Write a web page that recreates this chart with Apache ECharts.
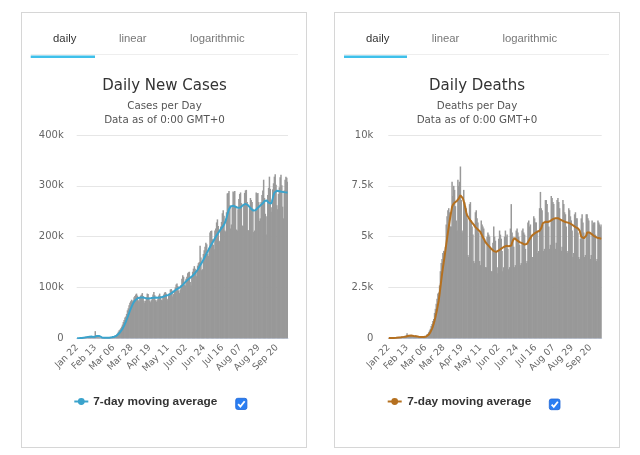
<!DOCTYPE html>
<html>
<head>
<meta charset="utf-8">
<title>Daily New Cases / Daily Deaths</title>
<script src="https://cdn.jsdelivr.net/npm/echarts@6/dist/echarts.min.js"></script>
<style>
  html, body { margin: 0; padding: 0; background: #fff; }
  .panel { position: absolute; top: 12px; width: 284px; height: 434px; border: 1px solid #d6d6d6; background: #fff; }
  #chart { position: absolute; left: 0; top: 0; width: 640px; height: 455px; }
</style>
</head>
<body>
<div class="panel" style="left:21px"></div>
<div class="panel" style="left:334px"></div>
<div id="chart"></div>
<script>
// first day of the series, Jan 22 2020
var startDay = { year: 2020, month: 0, day: 22 };
var monthNames = ['Jan', 'Feb', 'Mar', 'Apr', 'May', 'Jun', 'Jul', 'Aug', 'Sep', 'Oct', 'Nov', 'Dec'];

// new cases per day, Jan 22 .. Oct 3
var casesDaily = [
    100, 260, 450, 690, 790, 1770, 1460, 1740, 1980, 2100,
    2600, 2830, 3240, 3900, 3700, 3160, 3420, 2660, 3000, 2540, 2060, 2020,
    14100, 5100, 2660, 2100, 2060, 1900, 560, 640, 1030, 990, 620, 580, 860, 900, 1130, 1360, 1700,
    1900, 2200, 2600, 2800, 3500, 4000, 4500, 4800, 5500, 7500, 9500, 13000, 16000, 17500, 20000, 23000, 27000, 32000, 36000, 41000, 43000, 48000, 55000, 59000, 65000, 70000, 73000, 76000, 73000, 75000, 81000,
    83000, 86000, 88000, 84000, 75000, 72000, 80000, 84000, 86000, 89000, 83000, 74000, 70000, 74000, 81000, 88000, 87000, 81000, 74000, 71000, 75000, 79000, 86000, 91000, 85000, 75000, 72000, 75000, 78000, 84000,
    88000, 83000, 76000, 75000, 80000, 86000, 90000, 91000, 88000, 78000, 75000, 84000, 88000, 96000, 97000, 94000, 82000, 87000, 93000, 100000, 106000, 108000, 103000, 94000, 89000, 96000, 105000, 117000, 124000, 121000, 106000,
    104000, 117000, 121000, 128000, 130000, 131000, 111000, 104000, 122000, 131000, 137000, 142000, 137000, 133000, 122000, 143000, 148000, 150000, 182000, 159000, 134000, 136000, 166000, 173000, 180000, 188000, 185000, 166000, 162000, 178000,
    208000, 211000, 212000, 195000, 184000, 175000, 212000, 216000, 228000, 234000, 221000, 190000, 192000, 220000, 229000, 246000, 252000, 241000, 212000, 210000, 248000, 285000, 286000, 290000, 262000, 216000, 224000, 258000, 289000, 287000, 290000,
    258000, 214000, 212000, 254000, 274000, 284000, 287000, 266000, 222000, 221000, 262000, 286000, 291000, 292000, 268000, 213000, 212000, 256000, 276000, 272000, 268000, 255000, 209000, 212000, 252000, 287000, 284000, 286000, 268000, 231000, 236000,
    268000, 282000, 291000, 312000, 276000, 245000, 204000, 240000, 282000, 296000, 318000, 294000, 249000, 258000, 293000, 305000, 318000, 323000, 302000, 262000, 254000, 284000, 297000, 317000, 322000, 301000, 259000, 236000, 291000, 312000,
    318000, 316000, 308000
];

// 7-day moving average of new cases
var casesAvg = [
    100, 200, 300, 400, 500, 700, 800, 1000, 1300, 1500,
    1800, 2100, 2300, 2600, 2900, 3100, 3300, 3300, 3300, 3200, 2900, 2700,
    4400, 4700, 4700, 4500, 4500, 4400, 4200, 2200, 1600, 1300, 1100, 900, 800, 800, 900, 900, 1000,
    1200, 1400, 1700, 2000, 2300, 2700, 3100, 3600, 4300, 5300, 6500, 8000, 9800, 11800, 13900, 16200, 18800, 21700, 25000, 28600, 32500, 36600, 40900, 45300, 49800, 54200, 58500, 62400, 65900, 69000, 71700,
    74000, 75900, 77400, 78600, 79500, 80000, 80200, 80300, 80400, 80600, 80400, 80000, 79600, 79000, 78700, 78500, 78400, 78400, 78500, 78700, 79000, 79300, 79600, 79900, 80200, 80300, 80300, 80200, 80000, 79800,
    79900, 80100, 80500, 81000, 81600, 82300, 83000, 83600, 84100, 84500, 84900, 85400, 86200, 87200, 88300, 89500, 90800, 92100, 93400, 94600, 95700, 96700, 97600, 98500, 99500, 100600, 101900, 103400, 105100, 106900, 108700,
    110500, 112200, 113800, 115200, 116600, 117800, 119000, 120100, 121200, 123000, 124500, 126500, 128500, 130500, 132500, 134800, 137300, 140500, 143500, 146200, 148800, 151500, 154500, 157800, 161000, 164300, 167500, 170500, 173500, 176500,
    179500, 182500, 185500, 188000, 191000, 194000, 197000, 199800, 202500, 205000, 207500, 210000, 212200, 214500, 216700, 218800, 221000, 223500, 227000, 231500, 237000, 243000, 249000, 254000, 257500, 259500, 260500, 261000, 260800, 260200, 259500,
    258800, 258000, 257300, 256600, 256000, 256500, 257500, 259000, 260500, 262000, 263200, 264000, 264300, 264000, 263200, 262000, 260300, 258300, 256200, 254300, 252700, 251500, 251000, 251200, 252000, 253300, 255000, 256800, 258500, 260000, 261200,
    262000, 263500, 265500, 267800, 270000, 271500, 272000, 271000, 269000, 267000, 265200, 264000, 265000, 269000, 275000, 281500, 286500, 289000, 290000, 290300, 290200, 289800, 289300, 288900, 288600, 288300, 288000, 287800, 287600, 287400,
    287300, 287100, 287000
];

// deaths per day
var deathsDaily = [
    17, 8, 16, 15, 24, 26, 26, 38, 43, 46,
    45, 57, 64, 66, 73, 73, 86, 89, 97, 108, 97, 146,
    254, 121, 143, 142, 106, 98, 139, 115, 125, 97, 150, 71, 64, 38, 55, 56, 64,
    58, 70, 70, 83, 98, 110, 120, 200, 220, 300, 390, 470, 600, 700, 850, 950, 1250, 1450, 1700, 1950, 2200, 2250, 2600, 3300, 3700, 3900, 4200, 4300, 4000, 4500, 5600,
    6000, 6300, 6400, 6200, 5500, 5500, 7700, 7000, 7500, 7300, 6500, 5800, 5300, 7800, 7500, 7700, 8450, 6800, 5200, 5300, 7300, 6700, 6500, 6400, 5900, 4100, 4000, 6600, 6700, 5800,
    5500, 5100, 3800, 3700, 6200, 6300, 5900, 5700, 5200, 3800, 3600, 5800, 5600, 5500, 5400, 4900, 3500, 3500, 5000, 5200, 5100, 5000, 4500, 3300, 3300, 4700, 5500, 5000, 4800, 4300, 3200,
    3500, 4900, 5300, 5100, 4900, 4300, 3300, 3500, 5000, 5300, 5000, 5100, 4400, 3400, 3500, 5400, 6600, 5200, 5000, 4500, 3500, 3600, 5300, 5400, 5200, 5000, 4600, 3600, 3700, 5300,
    5400, 5200, 5100, 4400, 3700, 3800, 5700, 5800, 5500, 5600, 5000, 4000, 4000, 6000, 5900, 5700, 5700, 5300, 4200, 4300, 6400, 7200, 6400, 6300, 5600, 4300, 4400, 6800, 6800, 6600, 6200,
    5500, 4400, 4600, 7000, 6900, 6700, 6600, 5900, 4400, 4700, 6800, 6900, 6700, 6400, 5800, 4300, 4500, 6800, 6600, 6200, 6100, 5500, 4200, 4300, 6400, 6300, 6000, 5800, 5300, 4000, 4200,
    6100, 6200, 5900, 5900, 5200, 4000, 3900, 4900, 5900, 6100, 5700, 5200, 4000, 4100, 6100, 6100, 5900, 5800, 5200, 3900, 4100, 5800, 5600, 5700, 5700, 5100, 3800, 3900, 5800, 5700,
    5600, 5500, 5600
];

// 7-day moving average of deaths
var deathsAvg = [
    17, 13, 14, 14, 16, 18, 20, 21, 24, 27,
    32, 37, 42, 46, 50, 55, 61, 65, 70, 76, 80, 88,
    113, 117, 124, 130, 132, 133, 139, 119, 116, 112, 113, 105, 95, 86, 80, 72, 64,
    62, 62, 63, 66, 72, 80, 90, 110, 140, 180, 235, 300, 380, 480, 590, 720, 870, 1035, 1220, 1420, 1630, 1860, 2170, 2500, 2840, 3170, 3460, 3740, 4020, 4320, 4620,
    4920, 5200, 5470, 5740, 5990, 6230, 6460, 6560, 6620, 6670, 6700, 6730, 6770, 6820, 6870, 6950, 7035, 7020, 6960, 6880, 6790, 6600, 6400, 6200, 6050, 5980, 5920, 5860, 5800, 5740,
    5690, 5640, 5590, 5530, 5470, 5430, 5390, 5350, 5310, 5270, 5230, 5150, 5060, 4980, 4900, 4810, 4730, 4680, 4630, 4590, 4540, 4500, 4450, 4400, 4360, 4320, 4290, 4260, 4240, 4250, 4270,
    4300, 4320, 4350, 4380, 4410, 4440, 4470, 4490, 4510, 4530, 4550, 4560, 4570, 4530, 4480, 4450, 4560, 4700, 4820, 4900, 4930, 4950, 4880, 4815, 4770, 4730, 4730, 4730, 4700, 4680,
    4650, 4620, 4610, 4610, 4620, 4650, 4720, 4800, 4870, 4940, 5000, 5060, 5100, 5130, 5160, 5190, 5210, 5230, 5250, 5270, 5290, 5310, 5420, 5550, 5660, 5720, 5730, 5730, 5720, 5720, 5720,
    5720, 5750, 5780, 5810, 5840, 5860, 5880, 5900, 5910, 5920, 5920, 5910, 5890, 5870, 5840, 5820, 5800, 5780, 5760, 5740, 5720, 5710, 5700, 5690, 5680, 5660, 5640, 5610, 5590, 5560, 5530,
    5500, 5470, 5450, 5430, 5410, 5390, 5300, 5150, 5000, 4930, 4920, 4920, 4930, 4930, 5050, 5200, 5280, 5250, 5200, 5160, 5130, 5110, 5080, 5050, 5010, 4980, 4960, 4950, 4940, 4930,
    4920, 4910, 4900
];

// y axis ticks and their labels
var casesTicks = [0, 100000, 200000, 300000, 400000];
var casesTickLabels = ['0', '100k', '200k', '300k', '400k'];
var deathsTicks = [0, 2500, 5000, 7500, 10000];
var deathsTickLabels = ['0', '2.5k', '5k', '7.5k', '10k'];

var tabNames = ['daily', 'linear', 'logarithmic'];
var casesColor = '#3aa3cc';
var deathsColor = '#b5701f';
var barColor = '#999999';

function pad2(n) { return n < 10 ? '0' + n : '' + n; }

function makeDates(count) {
    var out = [];
    for (var i = 0; i < count; i++) {
        var d = new Date(Date.UTC(startDay.year, startDay.month, startDay.day + i));
        out.push(monthNames[d.getUTCMonth()] + ' ' + pad2(d.getUTCDate()));
    }
    return out;
}

var dates = makeDates(casesDaily.length);

var baseFont = 'DejaVu Sans, sans-serif';
var tabFont = 'Liberation Sans, Arial, sans-serif';

function xAxisFor(idx) {
    return {
        type: 'category',
        gridIndex: idx,
        data: dates,
        boundaryGap: true,
        axisLine: { lineStyle: { color: '#ccd6eb', width: 1 } },
        axisTick: { show: false },
        axisLabel: {
            interval: 21,
            rotate: 45,
            margin: 8,
            color: '#666',
            fontSize: 9.2,
            fontFamily: baseFont
        }
    };
}

function yAxisFor(idx, ticks, labels, margin) {
    return {
        type: 'value',
        gridIndex: idx,
        min: ticks[0],
        max: ticks[ticks.length - 1],
        interval: ticks[1] - ticks[0],
        axisLine: { show: false },
        axisTick: { show: false },
        splitLine: { lineStyle: { color: '#e6e6e6', width: 1 } },
        axisLabel: {
            margin: margin,
            color: '#666',
            fontSize: 10,
            fontFamily: baseFont,
            formatter: function (v) { return labels[ticks.indexOf(v)]; }
        }
    };
}

// tabs, titles, legend and checkbox of one panel
function panelGraphics(cx, tabX, underline, title, subtitle, legend, box, color) {
    var els = [];
    tabNames.forEach(function (name, i) {
        els.push({
            type: 'text', x: tabX[i], y: 38.5,
            style: { text: name, fill: i === 0 ? '#333' : '#777', fontSize: 11.3, fontFamily: tabFont, align: 'center', verticalAlign: 'middle' }
        });
    });
    els.push({ type: 'rect', shape: { x: underline[0], y: 54, width: underline[2] - underline[0], height: 1 }, style: { fill: '#eeeeee' } });
    els.push({ type: 'rect', shape: { x: underline[0], y: 55.5, width: underline[1] - underline[0], height: 2.4 }, style: { fill: '#3fc0ea' } });
    els.push({
        type: 'text', x: cx, y: 86,
        style: { text: title, fill: '#333', fontSize: 15, fontFamily: baseFont, align: 'center', verticalAlign: 'middle' }
    });
    els.push({
        type: 'text', x: cx, y: 106.7,
        style: { text: subtitle, fill: '#555', fontSize: 10.3, fontFamily: baseFont, align: 'center', verticalAlign: 'middle' }
    });
    els.push({
        type: 'text', x: cx, y: 120.7,
        style: { text: 'Data as of 0:00 GMT+0', fill: '#555', fontSize: 10.3, fontFamily: baseFont, align: 'center', verticalAlign: 'middle' }
    });
    els.push({ type: 'line', shape: { x1: legend[0], y1: 401.5, x2: legend[0] + 14, y2: 401.5 }, style: { stroke: color, lineWidth: 2 } });
    els.push({ type: 'circle', shape: { cx: legend[0] + 7, cy: 401.5, r: 3.4 }, style: { fill: color } });
    els.push({
        type: 'text', x: legend[1], y: 401.5,
        style: { text: '7-day moving average', fill: '#333', fontSize: 11.8, fontWeight: 'bold', fontFamily: tabFont, align: 'left', verticalAlign: 'middle' }
    });
    els.push({ type: 'rect', shape: { x: box[0], y: box[1], width: box[2], height: box[2], r: 2 }, style: { fill: '#2a7ef2', stroke: '#1d64d6', lineWidth: 0.8 } });
    els.push({
        type: 'polyline',
        shape: { points: [[box[0] + box[2] * 0.22, box[1] + box[2] * 0.52], [box[0] + box[2] * 0.42, box[1] + box[2] * 0.74], [box[0] + box[2] * 0.8, box[1] + box[2] * 0.26]] },
        style: { stroke: '#fff', lineWidth: 1.8, fill: null }
    });
    return els;
}

var chart = echarts.init(document.getElementById('chart'), null, { renderer: 'canvas' });
chart.setOption({
    animation: false,
    graphic: { elements: [].concat(
        panelGraphics(164.5, [64.7, 132.8, 217.3], [30.7, 95, 298], 'Daily New Cases', 'Cases per Day', [74.3, 93.3], [235.7, 398.3, 11.2], casesColor),
        panelGraphics(477, [377.7, 445.5, 529.8], [344, 407, 609], 'Daily Deaths', 'Deaths per Day', [387.7, 407.3], [549.3, 399, 10.7], deathsColor)
    ) },
    grid: [
        { left: 76.7, top: 135, width: 211.3, height: 203.3 },
        { left: 388.3, top: 135, width: 213.4, height: 203.3 }
    ],
    xAxis: [xAxisFor(0), xAxisFor(1)],
    yAxis: [
        yAxisFor(0, casesTicks, casesTickLabels, 13),
        yAxisFor(1, deathsTicks, deathsTickLabels, 15)
    ],
    series: [
        {
            name: 'Daily Cases', type: 'bar', xAxisIndex: 0, yAxisIndex: 0,
            data: casesDaily, barWidth: 1.5, itemStyle: { color: barColor }, silent: true
        },
        {
            name: '7-day moving average', type: 'line', xAxisIndex: 0, yAxisIndex: 0,
            data: casesAvg, symbol: 'none', lineStyle: { color: casesColor, width: 2 }, z: 3
        },
        {
            name: 'Daily Deaths', type: 'bar', xAxisIndex: 1, yAxisIndex: 1,
            data: deathsDaily, barWidth: 1.5, itemStyle: { color: barColor }, silent: true
        },
        {
            name: '7-day moving average ', type: 'line', xAxisIndex: 1, yAxisIndex: 1,
            data: deathsAvg, symbol: 'none', lineStyle: { color: deathsColor, width: 2 }, z: 3
        }
    ]
});
</script>
</body>
</html>
